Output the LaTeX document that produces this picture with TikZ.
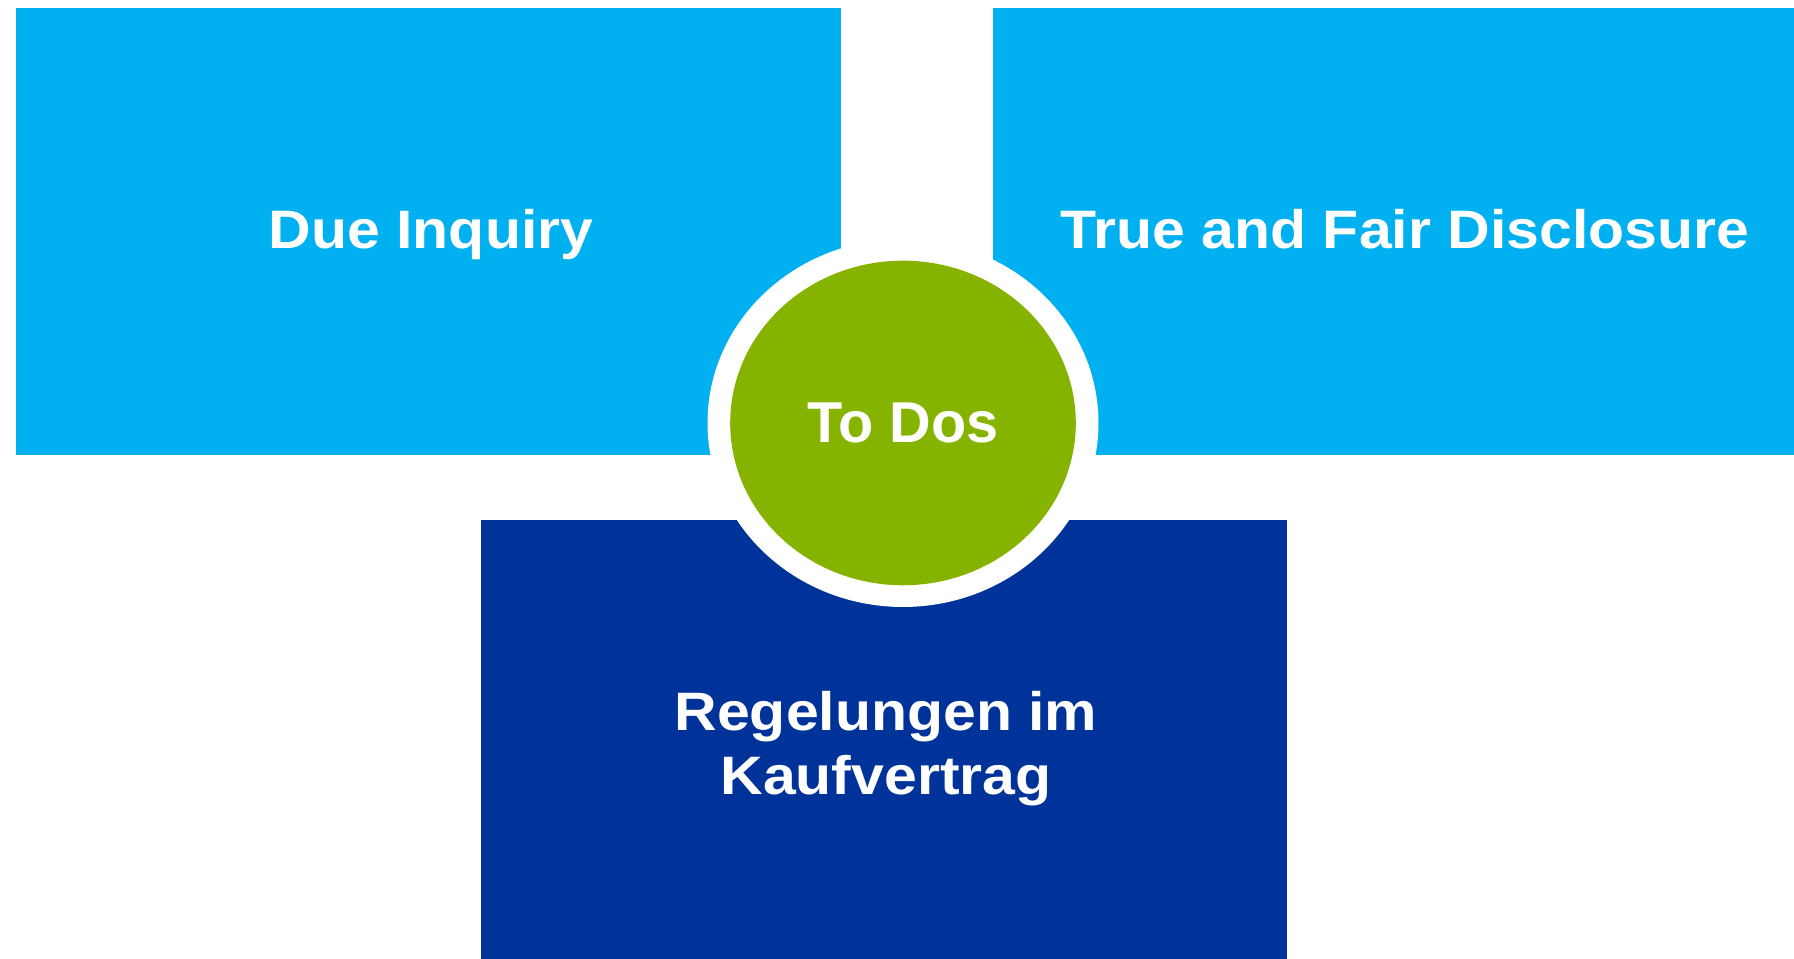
\documentclass[tikz,border=0pt]{standalone}
\usepackage{fontspec}
\setmainfont{Liberation Sans}
\newfontfamily\tilefont{Liberation Sans}[FakeStretch=1.09]
\definecolor{tileblue}{RGB}{0,176,240}
\definecolor{tilenavy}{RGB}{0,51,153}
\definecolor{hubgreen}{RGB}{133,179,0}
\tikzset{
  tiletext/.style={text=white, font=\tilefont\bfseries\fontsize{15.4}{18.2}\selectfont, align=center},
  hubtext/.style={text=white, font=\bfseries\fontsize{16.4}{19}\selectfont}
}
\begin{document}
\begin{tikzpicture}
    \useasboundingbox (0,0) rectangle (17.94,9.59);
    \fill [tileblue] (0.16,5.04) rectangle (8.41,9.51);
    \fill [tileblue] (9.93,5.04) rectangle (17.94,9.51);
    \fill [tilenavy] (4.81,0) rectangle (12.87,4.39);
    \fill [white] (9.03,5.36) ellipse [x radius=1.955, y radius=1.84];
    \fill [hubgreen] (9.03,5.36) ellipse [x radius=1.728, y radius=1.623];
    \node [tiletext, anchor=base] (inquiry) at (4.31,7.10) {Due Inquiry};
    \node [tiletext, anchor=base] (disclosure) at (14.05,7.10) {True and Fair Disclosure};
    \node [tiletext] (contract) at (8.86,2.10) {Regelungen im\\Kaufvertrag};
    \node [hubtext, anchor=base] (todos) at (9.03,5.16) {To Dos};
\end{tikzpicture}
\end{document}
